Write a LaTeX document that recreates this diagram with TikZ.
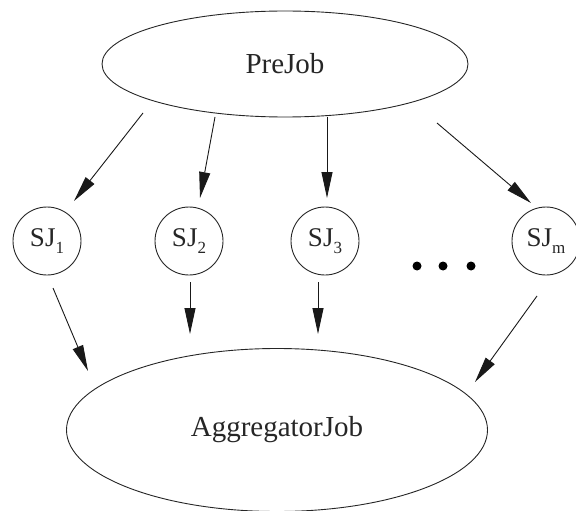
\documentclass[tikz,border=0pt]{standalone}
\usepackage{fontspec}
\setmainfont{Liberation Serif}
\usetikzlibrary{arrows.meta,shapes.geometric}
\newcommand{\subn}[1]{\raisebox{-7pt}{\fontsize{17}{17}\selectfont #1}}
\begin{document}
\begin{tikzpicture}[x=1pt,y=-1pt,
  every node/.style={text=black!85},
  bigjob/.style={draw=black!85,line width=0.9pt,ellipse,inner sep=0pt,font=\fontsize{29}{30}\selectfont},
  subjob/.style={draw=black!85,line width=0.9pt,circle,minimum size=68pt,inner sep=0pt,font=\fontsize{27}{30}\selectfont},
  dotnode/.style={circle,fill=black,minimum size=9pt,inner sep=0pt},
  arr/.style={draw=black!90,line width=0.9pt,-{Triangle[length=26pt,width=11pt]}}]
\useasboundingbox (0,0) rectangle (576,511);
\node[bigjob,minimum width=366pt,minimum height=106pt] (pre) at (285,64) {PreJob};
\node[bigjob,minimum width=421pt,minimum height=163pt] (agg) at (277,430) {AggregatorJob};
\node[subjob] (sj1) at (47,241) {SJ\subn{1}};
\node[subjob] (sj2) at (189,241) {SJ\subn{2}};
\node[subjob] (sj3) at (325,241) {SJ\subn{3}};
\node[subjob] (sjm) at (546,241) {SJ\subn{m}};
\node[dotnode] (d1) at (417,266) {};
\node[dotnode] (d2) at (443,266) {};
\node[dotnode] (d3) at (471,266) {};
% connector end points
\coordinate (p1) at (143,113);
\coordinate (t1) at (74,201);
\coordinate (p2) at (215,117);
\coordinate (t2) at (200,198);
\coordinate (p3) at (327,117);
\coordinate (t3) at (327,198);
\coordinate (p4) at (437,123);
\coordinate (t4) at (531,203);
\coordinate (s1) at (53,288);
\coordinate (a1) at (88,371);
\coordinate (s2) at (190,282);
\coordinate (a2) at (190,334);
\coordinate (s3) at (318,282);
\coordinate (a3) at (318,334);
\coordinate (sm) at (537,296);
\coordinate (am) at (475,382);
\draw[arr] (p1) -- (t1);
\draw[arr] (p2) -- (t2);
\draw[arr] (p3) -- (t3);
\draw[arr] (p4) -- (t4);
\draw[arr] (s1) -- (a1);
\draw[arr] (s2) -- (a2);
\draw[arr] (s3) -- (a3);
\draw[arr] (sm) -- (am);
\end{tikzpicture}
\end{document}
